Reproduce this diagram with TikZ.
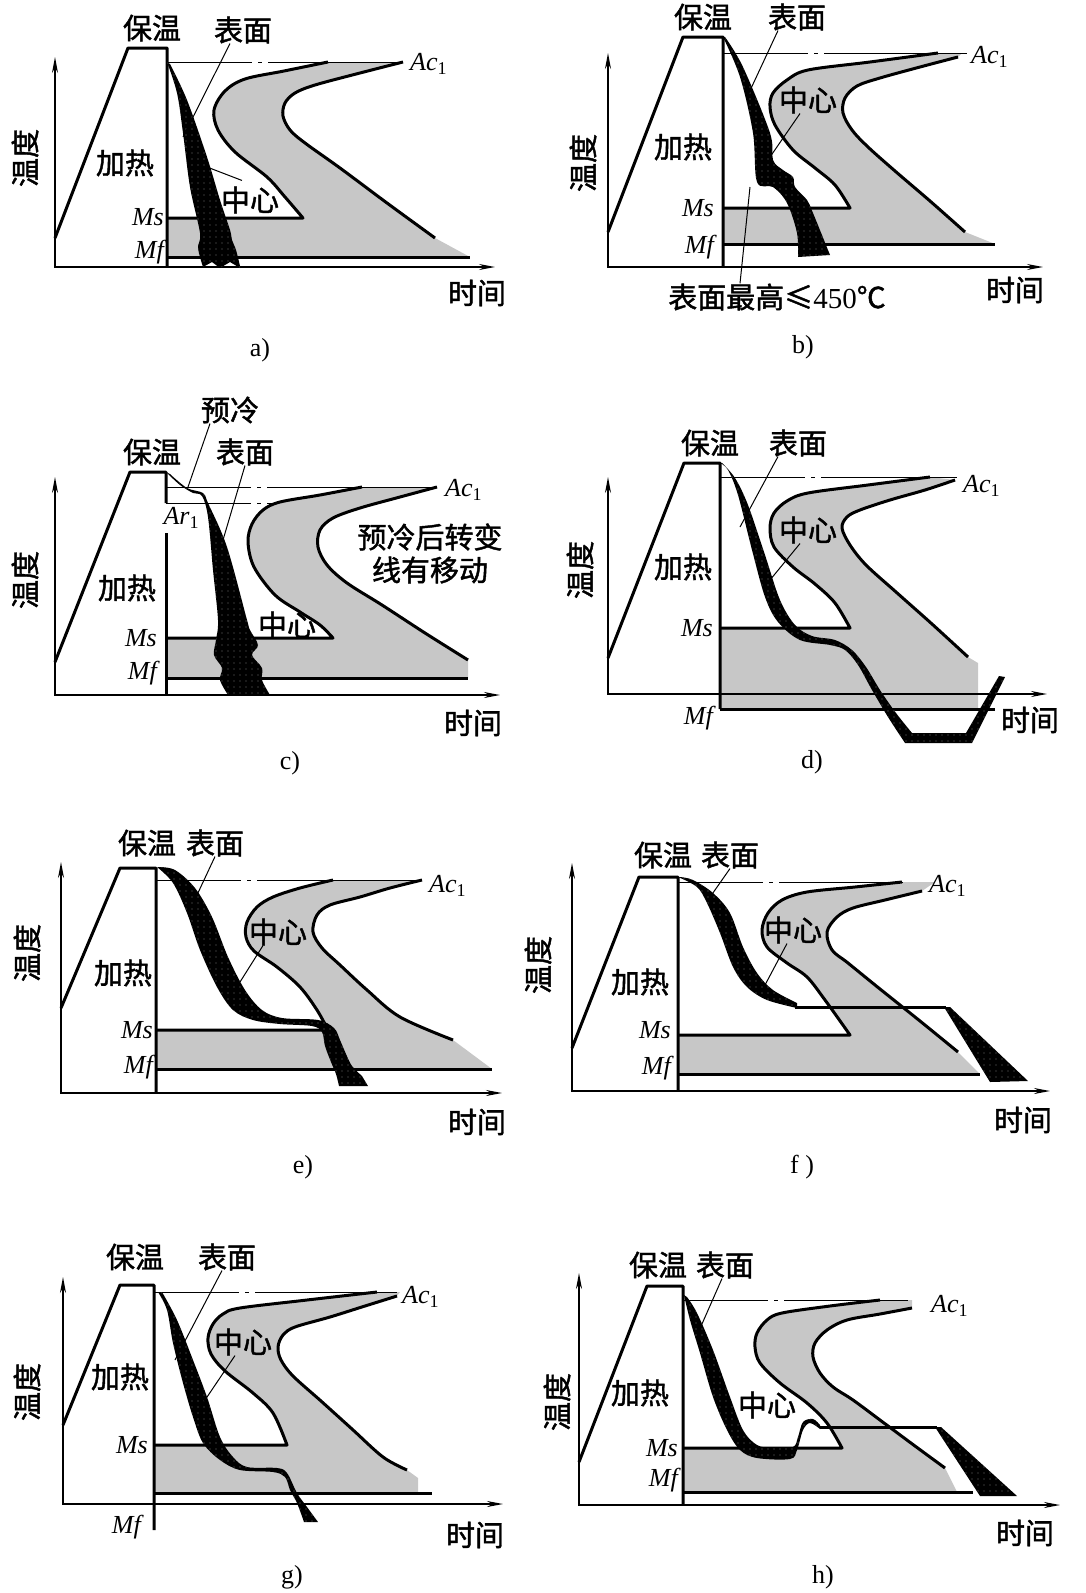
\documentclass[tikz,border=0pt]{standalone}
\usepackage{fontspec}
\setmainfont{Liberation Serif}
\newfontfamily\cjk{Noto Sans CJK SC}[FakeBold=1.5]
\usetikzlibrary{arrows.meta,patterns.meta}
\newcommand\acsub{\textit{Ac}\raisebox{-0.35ex}{\fontsize{18}{20}\selectfont\upshape 1}}
\newcommand\arsub{\textit{Ar}\raisebox{-0.35ex}{\fontsize{18}{20}\selectfont\upshape 1}}

\begin{document}
\begin{tikzpicture}[x=1pt, y=-1pt,
  tline/.style={line width=3pt, line join=round},
  axis/.style={line width=1.6pt, {Stealth[length=16pt,width=6pt]}-{Stealth[length=16pt,width=6pt]}},
  acline/.style={line width=1pt, dash pattern=on 85pt off 6pt on 4pt off 6pt on 600pt},
  lead/.style={line width=1pt},
  tband/.style={fill=black!22},
  cband/.style={preaction={fill=black}, pattern={Dots[distance=6pt,radius=0.6pt]}, pattern color=black!55},
  crv/.style={smooth, tension=.55},
  lab/.style={font=\cjk\fontsize{29}{31}\selectfont, inner sep=0pt},
  itl/.style={font=\fontsize{26}{28}\selectfont\itshape, inner sep=1pt},
  capt/.style={font=\fontsize{26}{28}\selectfont, inner sep=0pt}]
\useasboundingbox (0,0) rectangle (1085,1593);

% ===== a) =====
% transformation zone
\fill[tband] plot[crv] coordinates {(328,62) (284,71) (245,79) (225,91) (214,110) (218,130) (235,152) (267,177) (285,197) (303,218)}
  -- (167,218) -- (167,257) -- (470,257)
  -- plot[crv] coordinates {(435,238) (387,203) (340,168) (305,143) (290,130) (283,116) (285,103) (295,93) (315,85) (360,73) (403,62)} -- cycle;
\draw[acline] (167,62) -- (403,62);
\draw[tline] plot[crv] coordinates {(328,62) (284,71) (245,79) (225,91) (214,110) (218,130) (235,152) (267,177) (285,197) (303,218)} -- (167,218);
\draw[tline] plot[crv] coordinates {(435,238) (387,203) (340,168) (305,143) (290,130) (283,116) (285,103) (295,93) (315,85) (360,73) (403,62)};
\draw[tline] (167,257) -- (470,257);
% axes and heating
\draw[axis] (55,57) -- (55,267) -- (495,267);
\draw[tline] (55,238) -- (128,48) -- (167,48) -- (167,267);
% cooling band
\fill[cband] plot[crv] coordinates {(167,62) (177,93) (183,133) (190,187) (200,233) (198,248) (203,267)}
  -- (212,262) -- (220,268) -- (230,262) -- (240,268)
  -- plot[crv] coordinates {(240,266) (236,250) (232,240) (230,230) (220,200) (207,157) (187,100) (170,64)} -- cycle;
% labels
\node[lab] (keepA) at (152,28) {保温};
\node[lab] (heatA) at (125,163) {加热};
\node[lab, rotate=90] (tempA) at (25,158) {温度};
\node[lab] (surfA) at (243,30) {表面};
\node[lab] (coreA) at (250,200) {中心};
\node[lab] (timeA) at (477,293) {时间};
\node[itl, anchor=east] (msA) at (165,217) {Ms};
\node[itl, anchor=east] (mfA) at (165,252) {Mf};
\node[itl, anchor=west] (acA) at (409,64) {\acsub};
\node[capt] (capA) at (260,350) {a)};
\coordinate (surfAe) at (183,137);
\coordinate (coreAe) at (207,167);
\draw[lead] ([xshift=-13pt]surfA.south) -- (surfAe);
\draw[lead] ([xshift=-8pt,yshift=6pt]coreA.north) -- (coreAe);

% ===== b) =====
\fill[tband] plot[crv] coordinates {(938,53) (870,62) (808,70) (787,80) (773,93) (770,107) (775,125) (793,150) (815,168) (835,185) (850,208)}
  -- (723,208) -- (723,244) -- (995,244)
  -- plot[crv] coordinates {(965,232) (930,201) (895,171) (868,147) (852,130) (843,113) (845,98) (857,86) (880,78) (920,67) (958,57)} -- (962,53) -- cycle;
\draw[acline] (723,53) -- (967,53);
\draw[tline] plot[crv] coordinates {(938,53) (870,62) (808,70) (787,80) (773,93) (770,107) (775,125) (793,150) (815,168) (835,185) (850,208)} -- (723,208);
\draw[tline] plot[crv] coordinates {(965,232) (930,201) (895,171) (868,147) (852,130) (843,113) (845,98) (857,86) (880,78) (920,67) (958,57)};
\draw[tline] (723,244) -- (995,244);
\draw[axis] (608,53) -- (608,267) -- (1043,267);
\draw[tline] (608,232) -- (683,37) -- (723,37) -- (723,267);
\fill[cband] plot[crv] coordinates {(723,37) (740,77) (753,133) (757,182) (773,187) (787,203) (797,233) (798,257)}
  -- (830,255)
  -- plot[crv] coordinates {(830,255) (813,213) (807,200) (795,187) (793,177) (783,170) (773,160) (770,133) (743,67) (725,37)} -- cycle;
\node[lab] (keepB) at (703,17) {保温};
\node[lab] (heatB) at (683,147) {加热};
\node[lab, rotate=90] (tempB) at (583,163) {温度};
\node[lab] (surfB) at (797,17) {表面};
\node[lab] (coreB) at (808,100) {中心};
\node[lab] (hiB) at (777,297) {表面最高≤{\rmfamily 450}℃};
\node[lab] (timeB) at (1015,290) {时间};
\node[itl, anchor=east] (msB) at (715,208) {Ms};
\node[itl, anchor=east] (mfB) at (715,247) {Mf};
\node[itl, anchor=west] (acB) at (970,57) {\acsub};
\node[capt] (capB) at (803,347) {b)};
\coordinate (surfBe) at (747,97);
\coordinate (coreBe) at (770,157);
\coordinate (hiBe) at (750,187);
\draw[lead] ([xshift=-19pt]surfB.south) -- (surfBe);
\draw[lead] ([xshift=-8pt]coreB.south) -- (coreBe);
\draw[lead] ([xshift=-37pt]hiB.north) -- (hiBe);

% ===== c) =====
\fill[tband] plot[crv] coordinates {(362,487) (320,495) (280,502) (263,510) (252,524) (248,542) (254,567) (275,595) (300,612) (320,625) (333,638)}
  -- (166,638) -- (166,678) -- (468,678)
  -- plot[crv] coordinates {(468,660) (425,633) (382,605) (347,583) (327,565) (318,547) (320,530) (333,518) (360,508) (400,497) (437,487)} -- cycle;
\draw[acline] (166,487) -- (437,487);
\draw[acline] (166,503) -- (277,503);
\draw[tline] plot[crv] coordinates {(362,487) (320,495) (280,502) (263,510) (252,524) (248,542) (254,567) (275,595) (300,612) (320,625) (333,638)} -- (166,638);
\draw[tline] plot[crv] coordinates {(468,660) (425,633) (382,605) (347,583) (327,565) (318,547) (320,530) (333,518) (360,508) (400,497) (437,487)};
\draw[tline] (166,678) -- (468,678);
\draw[axis] (55,477) -- (55,695) -- (500,695);
\draw[tline] (55,662) -- (130,472) -- (166,472) -- (166,503);
\draw[tline] (166,533) -- (166,695);
\fill[cband] plot[crv] coordinates {(166,472) (180,485) (193,493) (202,496) (208,517) (213,570) (218,620) (216,640) (214,655) (222,668) (220,680) (228,695)}
  -- (270,695)
  -- plot[crv] coordinates {(270,695) (262,680) (262,668) (252,655) (258,645) (250,630) (247,620) (227,547) (208,503) (203,493) (187,488) (170,474)} -- cycle;
\node[lab] (keepC) at (152,452) {保温};
\node[lab] (heatC) at (127,588) {加热};
\node[lab, rotate=90] (tempC) at (25,580) {温度};
\node[lab] (preC) at (230,410) {预冷};
\node[lab] (surfC) at (245,452) {表面};
\node[lab] (coreC) at (287,625) {中心};
\node[lab] (moveC) at (430,537) {预冷后转变};
\node[lab] (move2C) at (430,570) {线有移动};
\node[lab] (timeC) at (473,723) {时间};
\node[itl, anchor=east] (msC) at (158,638) {Ms};
\node[itl, anchor=east] (mfC) at (158,673) {Mf};
\node[itl, anchor=west] (acC) at (444,490) {\acsub};
\node[itl] (arC) at (181,518) {\arsub};
\node[capt] (capC) at (290,763) {c)};
\coordinate (preCe) at (188,487);
\coordinate (surfCe) at (223,540);
\draw[lead] ([xshift=-20pt]preC.south) -- (preCe);
\draw[lead] (surfC.south) -- (surfCe);

% ===== d) =====
\fill[tband] plot[crv] coordinates {(930,477) (868,485) (808,493) (787,501) (774,513) (770,528) (774,547) (793,567) (815,584) (835,603) (850,628)}
  -- (720,628) -- (720,709) -- (978,709) -- (978,663)
  -- plot[crv] coordinates {(968,657) (932,624) (896,592) (866,565) (850,545) (842,528) (847,517) (860,510) (890,500) (925,490) (955,480)} -- cycle;
\draw[acline] (720,477) -- (957,477);
\draw[tline] plot[crv] coordinates {(930,477) (868,485) (808,493) (787,501) (774,513) (770,528) (774,547) (793,567) (815,584) (835,603) (850,628)} -- (720,628);
\draw[tline] plot[crv] coordinates {(968,657) (932,624) (896,592) (866,565) (850,545) (842,528) (847,517) (860,510) (890,500) (925,490) (955,480)};
\draw[tline] (720,709) -- (995,709);
\draw[axis] (608,477) -- (608,694) -- (1047,694);
\draw[tline] (608,658) -- (684,463) -- (720,463) -- (720,709);
\fill[cband] plot[crv] coordinates {(720,463) (728,470) (738,495) (752,550) (765,597) (778,622) (800,640) (830,645) (845,650) (858,665) (872,690) (888,717) (905,743)}
  -- (972,743) -- (1005,677) -- (999,676) -- (966,733)
  -- plot[crv] coordinates {(912,733) (896,713) (880,690) (866,667) (852,650) (835,640) (812,636) (795,625) (780,600) (765,555) (748,505) (735,478) (722,463)} -- cycle;
\node[lab] (keepD) at (710,443) {保温};
\node[lab] (heatD) at (683,567) {加热};
\node[lab, rotate=90] (tempD) at (580,570) {温度};
\node[lab] (surfD) at (798,443) {表面};
\node[lab] (coreD) at (808,530) {中心};
\node[lab] (timeD) at (1030,720) {时间};
\node[itl, anchor=east] (msD) at (714,628) {Ms};
\node[itl, anchor=east] (mfD) at (714,718) {Mf};
\node[itl, anchor=west] (acD) at (962,486) {\acsub};
\node[capt] (capD) at (812,762) {d)};
\coordinate (surfDe) at (740,527);
\coordinate (coreDe) at (770,580);
\draw[lead] ([xshift=-20pt]surfD.south) -- (surfDe);
\draw[lead] ([xshift=-8pt]coreD.south) -- (coreDe);

% ===== e) =====
\fill[tband] plot[crv] coordinates {(333,880) (300,888) (273,897) (257,907) (247,922) (246,937) (254,951) (277,967) (300,987) (317,1010) (328,1030)}
  -- (156,1030) -- (156,1069) -- (492,1069)
  -- plot[crv] coordinates {(453,1040) (400,1017) (367,990) (340,965) (322,948) (313,932) (317,915) (330,905) (360,897) (390,888) (422,880)} -- cycle;
\draw[acline] (156,880) -- (422,880);
\draw[tline] plot[crv] coordinates {(333,880) (300,888) (273,897) (257,907) (247,922) (246,937) (254,951) (277,967) (300,987) (317,1010) (328,1030)} -- (156,1030);
\draw[tline] plot[crv] coordinates {(453,1040) (400,1017) (367,990) (340,965) (322,948) (313,932) (317,915) (330,905) (360,897) (390,888) (422,880)};
\draw[tline] (156,1069) -- (492,1069);
\draw[axis] (61,862) -- (61,1093) -- (502,1093);
\draw[tline] (61,1008) -- (120,868) -- (156,868) -- (156,1093);
\fill[cband] plot[crv] coordinates {(157,867) (173,883) (187,913) (200,950) (217,987) (233,1010) (253,1020) (280,1024) (312,1026) (322,1032) (325,1046) (331,1062) (336,1074) (339,1086)}
  -- (368,1086)
  -- plot[crv] coordinates {(362,1076) (352,1066) (346,1054) (340,1040) (334,1028) (318,1020) (282,1018) (262,1010) (245,990) (228,957) (212,917) (195,888) (175,870) (158,867)} -- cycle;
\node[lab] (keepE) at (147,843) {保温};
\node[lab] (heatE) at (123,973) {加热};
\node[lab, rotate=90] (tempE) at (27,953) {温度};
\node[lab] (surfE) at (215,843) {表面};
\node[lab] (coreE) at (278,932) {中心};
\node[lab] (timeE) at (477,1122) {时间};
\node[itl, anchor=east] (msE) at (154,1030) {Ms};
\node[itl, anchor=east] (mfE) at (154,1067) {Mf};
\node[itl, anchor=west] (acE) at (428,886) {\acsub};
\node[capt] (capE) at (303,1167) {e)};
\coordinate (surfEe) at (197,895);
\coordinate (coreEe) at (240,982);
\draw[lead] (surfE.south) -- (surfEe);
\draw[lead] ([xshift=-15pt]coreE.south) -- (coreEe);

% ===== f) =====
\fill[tband] plot[crv] coordinates {(902,882) (855,887) (807,892) (782,900) (768,913) (762,930) (767,947) (787,963) (807,977) (825,1000) (850,1035)}
  -- (678,1035) -- (678,1074) -- (980,1074)
  -- plot[crv] coordinates {(958,1052) (920,1021) (880,989) (848,963) (832,950) (827,932) (837,917) (853,908) (885,900) (922,891)} -- (935,882) -- cycle;
\draw[acline] (678,882) -- (903,882);
\draw[tline] plot[crv] coordinates {(902,882) (855,887) (807,892) (782,900) (768,913) (762,930) (767,947) (787,963) (807,977) (825,1000) (850,1035)} -- (678,1035);
\draw[tline] plot[crv] coordinates {(958,1052) (920,1021) (880,989) (848,963) (832,950) (827,932) (837,917) (853,908) (885,900) (922,891)};
\draw[tline] (678,1074) -- (980,1074);
\draw[tline] (795,1007) -- (946,1007);
\draw[axis] (572,863) -- (572,1091) -- (1050,1091);
\draw[tline] (572,1048) -- (639,877) -- (678,877) -- (678,1091);
\fill[cband] plot[crv] coordinates {(678,877) (697,887) (707,903) (720,933) (733,967) (747,987) (767,1000) (797,1008)}
  -- plot[crv] coordinates {(797,1003) (773,990) (757,973) (743,947) (730,913) (713,893) (693,880) (680,877)} -- cycle;
\fill[cband] (944,1007) -- (950,1007) -- (1028,1081) -- (990,1082) -- cycle;
\node[lab] (keepF) at (663,855) {保温};
\node[lab] (heatF) at (640,982) {加热};
\node[lab, rotate=90] (tempF) at (538,965) {温度};
\node[lab] (surfF) at (730,855) {表面};
\node[lab] (coreF) at (793,930) {中心};
\node[lab] (timeF) at (1023,1120) {时间};
\node[itl, anchor=east] (msF) at (672,1030) {Ms};
\node[itl, anchor=east] (mfF) at (672,1068) {Mf};
\node[itl, anchor=west] (acF) at (928,886) {\acsub};
\node[capt] (capF) at (802,1167) {f )};
\coordinate (surfFe) at (708,900);
\coordinate (coreFe) at (765,985);
\draw[lead] (surfF.south) -- (surfFe);
\draw[lead] ([xshift=-6pt]coreF.south) -- (coreFe);

% ===== g) =====
\fill[tband] plot[crv] coordinates {(377,1292) (307,1300) (240,1308) (223,1314) (213,1324) (208,1338) (211,1354) (225,1371) (253,1393) (273,1413) (287,1445)}
  -- (154,1445) -- (154,1493) -- (418,1493) -- (418,1478)
  -- plot[crv] coordinates {(407,1470) (383,1457) (352,1429) (321,1401) (293,1376) (281,1360) (278,1347) (283,1335) (295,1327) (330,1317) (365,1306) (397,1296)} -- (400,1292) -- cycle;
\draw[acline] (154,1292) -- (397,1292);
\draw[tline] plot[crv] coordinates {(377,1292) (307,1300) (240,1308) (223,1314) (213,1324) (208,1338) (211,1354) (225,1371) (253,1393) (273,1413) (287,1445)} -- (154,1445);
\draw[tline] plot[crv] coordinates {(407,1470) (383,1457) (352,1429) (321,1401) (293,1376) (281,1360) (278,1347) (283,1335) (295,1327) (330,1317) (365,1306) (397,1296)};
\draw[tline] (154,1493) -- (432,1493);
\draw[axis] (63,1277) -- (63,1504) -- (503,1504);
\draw[tline] (63,1425) -- (120,1285) -- (154,1285) -- (154,1530);
\fill[cband] plot[crv] coordinates {(158,1292) (167,1310) (173,1343) (183,1383) (193,1417) (203,1443) (220,1460) (240,1470) (273,1472) (285,1477) (290,1490) (297,1503) (304,1522)}
  -- (318,1522)
  -- plot[crv] coordinates {(318,1522) (307,1507) (297,1493) (287,1473) (277,1468) (247,1467) (233,1457) (220,1437) (207,1397) (193,1360) (177,1320) (162,1292)} -- cycle;
\node[lab] (keepG) at (135,1257) {保温};
\node[lab] (heatG) at (120,1377) {加热};
\node[lab, rotate=90] (tempG) at (27,1392) {温度};
\node[lab] (surfG) at (227,1257) {表面};
\node[lab] (coreG) at (243,1342) {中心};
\node[lab] (timeG) at (475,1535) {时间};
\node[itl, anchor=east] (msG) at (149,1445) {Ms};
\node[itl, anchor=east] (mfG) at (142,1527) {Mf};
\node[itl, anchor=west] (acG) at (401,1297) {\acsub};
\node[capt] (capG) at (292,1577) {g)};
\coordinate (surfGe) at (175,1360);
\coordinate (coreGe) at (203,1403);
\draw[lead] ([xshift=-5pt]surfG.south) -- (surfGe);
\draw[lead] ([xshift=-8pt]coreG.south) -- (coreGe);

% ===== h) =====
\fill[tband] plot[crv] coordinates {(880,1300) (830,1306) (782,1313) (767,1320) (757,1333) (755,1347) (760,1363) (780,1383) (807,1403) (827,1423) (842,1448)}
  -- (683,1448) -- (683,1492) -- (957,1492)
  -- plot[crv] coordinates {(945,1468) (915,1446) (884,1423) (853,1400) (833,1387) (820,1373) (813,1357) (815,1343) (827,1330) (847,1320) (880,1314) (912,1308)} -- (912,1300) -- cycle;
\draw[acline] (683,1300) -- (908,1300);
\draw[tline] plot[crv] coordinates {(880,1300) (830,1306) (782,1313) (767,1320) (757,1333) (755,1347) (760,1363) (780,1383) (807,1403) (827,1423) (842,1448)} -- (683,1448);
\draw[tline] plot[crv] coordinates {(945,1468) (915,1446) (884,1423) (853,1400) (833,1387) (820,1373) (813,1357) (815,1343) (827,1330) (847,1320) (880,1314) (912,1308)};
\draw[tline] (683,1492) -- (973,1492);
\draw[tline] (820,1427) -- (937,1427);
\draw[axis] (579,1273) -- (579,1505) -- (1060,1505);
\draw[tline] (579,1462) -- (647,1286) -- (683,1286) -- (683,1505);
\fill[cband] plot[crv] coordinates {(684,1295) (690,1320) (700,1353) (713,1397) (727,1430) (740,1450) (757,1458) (790,1459) (797,1450) (803,1430) (810,1423) (820,1429)}
  -- plot[crv] coordinates {(820,1425) (813,1419) (803,1422) (798,1437) (793,1447) (773,1448) (757,1445) (743,1430) (730,1397) (713,1350) (697,1313) (687,1297)} -- cycle;
\fill[cband] (935,1427) -- (941,1427) -- (1017,1496) -- (980,1496) -- cycle;
\node[lab] (keepH) at (658,1265) {保温};
\node[lab] (heatH) at (640,1393) {加热};
\node[lab, rotate=90] (tempH) at (557,1402) {温度};
\node[lab] (surfH) at (725,1265) {表面};
\node[lab] (coreH) at (767,1405) {中心};
\node[lab] (timeH) at (1025,1533) {时间};
\node[itl, anchor=east] (msH) at (679,1448) {Ms};
\node[itl, anchor=east] (mfH) at (679,1480) {Mf};
\node[itl, anchor=west] (acH) at (930,1306) {\acsub};
\node[capt] (capH) at (823,1577) {h)};
\coordinate (surfHe) at (698,1333);
\coordinate (coreHe) at (733,1427);
\draw[lead] ([xshift=-3pt]surfH.south) -- (surfHe);
\draw[lead] (coreH.south west) -- (coreHe);
\end{tikzpicture}
\end{document}
